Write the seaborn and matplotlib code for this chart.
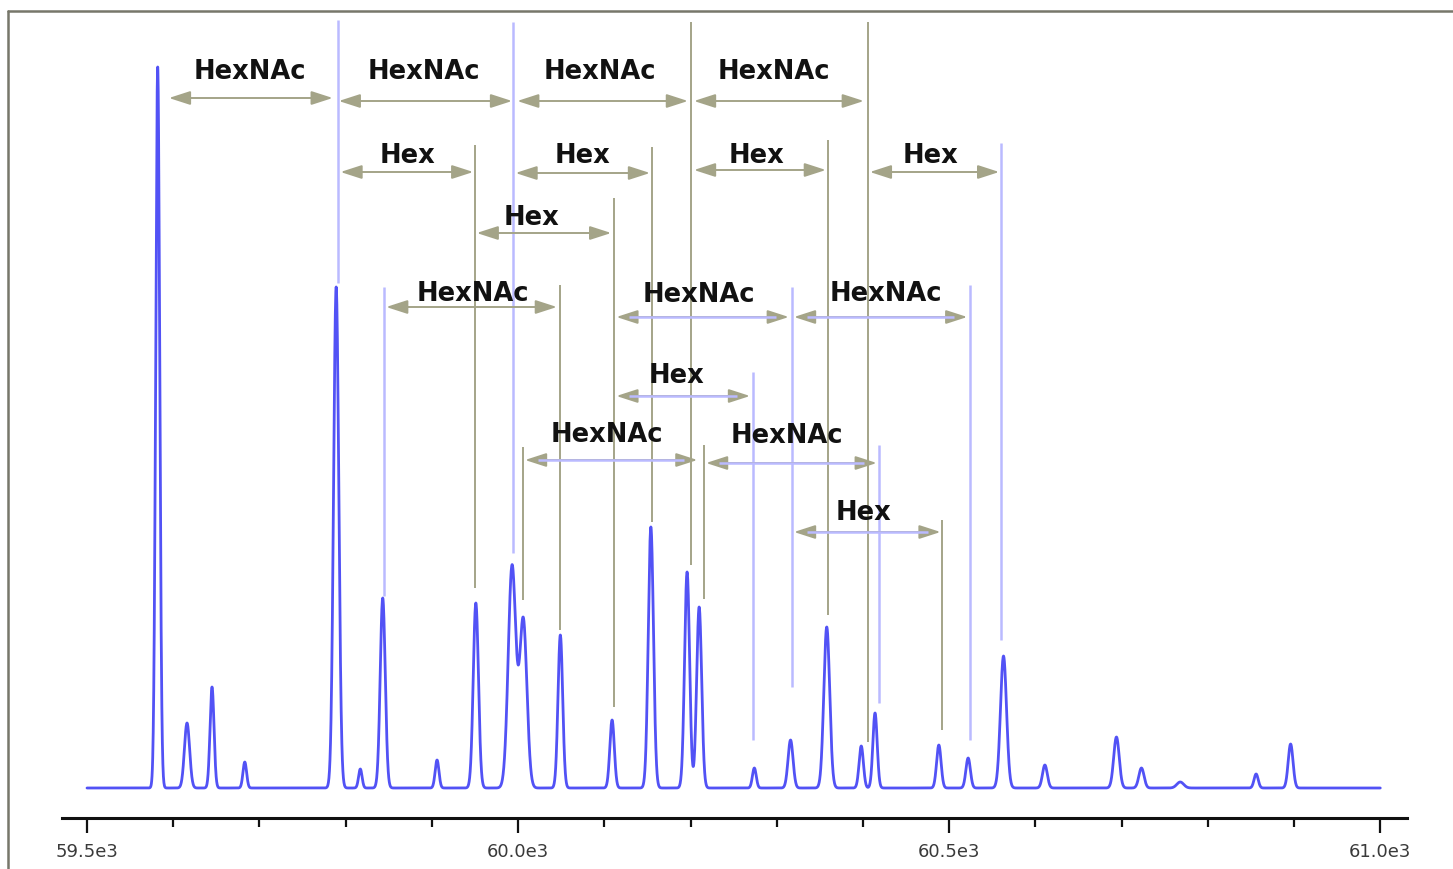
import numpy as np
import pandas as pd
import matplotlib
matplotlib.use("Agg")
import matplotlib.pyplot as plt
from matplotlib.lines import Line2D
import seaborn as sns

# ---------------- data ----------------
peak_mass = [59582, 59616, 59645, 59683, 59789, 59817, 59843, 59906, 59951, 59993,
             60006, 60049, 60109, 60154, 60196, 60210, 60274, 60316, 60358, 60398,
             60414, 60488, 60522, 60563, 60611, 60694, 60723, 60768, 60856, 60896]
peak_height = [721, 65, 101, 26, 501, 19, 190, 28, 185, 222,
               168, 153, 68, 261, 216, 181, 20, 48, 161, 42,
               75, 43, 30, 132, 23, 51, 20, 6, 14, 44]
peak_sigma = [2.3, 3.0, 2.3, 2.1, 3.0, 2.0, 2.9, 2.2, 3.0, 4.4,
              4.2, 2.7, 2.6, 3.0, 2.9, 2.9, 2.2, 2.9, 3.4, 2.5,
              2.5, 2.6, 2.6, 3.5, 2.8, 3.2, 3.0, 4.0, 2.4, 2.8]

tick_values = [59500, 60000, 60500, 61000]
tick_labels = ["59.5e3", "60.0e3", "60.5e3", "61.0e3"]

# guide lines: mass, lower end, upper end, kind
guide_mass = [60201, 60406, 59950, 60155, 60360, 60111, 60049, 60006, 60216, 60492,
              59791, 59994, 59845, 60318, 60524, 60273, 60419, 60560]
guide_low = [223, 46, 200, 266, 173, 81, 158, 188, 189, 58,
             505, 235, 192, 101, 48, 48, 85, 148]
guide_high = [766, 766, 643, 641, 648, 590, 503, 341, 343, 268,
              768, 766, 501, 501, 503, 416, 343, 645]
guide_kind = ["o"] * 10 + ["b"] * 8

# mass-difference arrows: start, end, level, shaft kind
arrow_start = [59595, 59792, 59999, 60204,
               59794, 59997, 60204, 60408,
               59952,
               59847, 60114, 60320,
               60114,
               60008, 60218,
               60320]
arrow_end = [59785, 59993, 60197, 60401,
             59948, 60153, 60357, 60558,
             60108,
             60045, 60314, 60521,
             60269,
             60208, 60416,
             60490]
arrow_level = [690, 687, 687, 687,
               616, 615, 618, 616,
               555,
               481, 471, 471,
               392,
               328, 325,
               256]
arrow_kind = ["o", "o", "o", "o",
              "o", "o", "o", "o",
              "o",
              "o", "b", "b",
              "b",
              "b", "b",
              "b"]

label_text = ["HexNAc", "HexNAc", "HexNAc", "HexNAc",
              "Hex", "Hex", "Hex", "Hex",
              "Hex",
              "HexNAc", "HexNAc", "HexNAc",
              "Hex",
              "HexNAc", "HexNAc",
              "Hex"]
label_mass = [59689, 59891, 60095, 60297,
              59872, 60075, 60276, 60478,
              60015,
              59947, 60210, 60427,
              60184,
              60103, 60312,
              60401]
label_base = [709, 709, 709, 709,
              625, 625, 625, 625,
              563,
              487, 486, 487,
              405,
              346, 345,
              268]

# ---------------- spectrum trace from peak list ----------------
mz = np.arange(59500, 61000.01, 0.2)
inten = np.zeros_like(mz)
for m, h, s in zip(peak_mass, peak_height, peak_sigma):
    inten += h * np.exp(-0.5 * ((mz - m) / s) ** 2)
spec = pd.DataFrame({"mass": mz, "intensity": inten})

# ---------------- figure ----------------
sns.set_theme(style="white")
plt.rcParams["font.family"] = ["DejaVu Sans"]

W, H = 1453, 869
fig = plt.figure(figsize=(W / 100, H / 100), dpi=100)
fig.patch.set_facecolor("white")
ax = fig.add_axes([62 / W, (H - 818) / H, (1407 - 62) / W, (818 - 11) / H])
ax.set_facecolor("white")

OLIVE = "#a4a488"
LBLUE = "#babaff"
SPEC = "#5252f5"

# guide lines
for m, lo, hi, k in zip(guide_mass, guide_low, guide_high, guide_kind):
    ax.vlines(m, lo, hi, color=OLIVE if k == "o" else LBLUE,
              lw=1.4 if k == "o" else 1.8, zorder=1)

# spectrum
sns.lineplot(data=spec, x="mass", y="intensity", ax=ax, color=SPEC,
             lw=2.0, zorder=3, estimator=None)

# arrows
HEAD = 15  # head length in mass units (about 13 px)
for a, b, lv, k in zip(arrow_start, arrow_end, arrow_level, arrow_kind):
    ax.annotate("", xy=(b, lv), xytext=(a, lv),
                arrowprops=dict(arrowstyle="<|-|>,head_length=1.3,head_width=0.42",
                                mutation_scale=10, fc=OLIVE, ec=OLIVE,
                                lw=1.4, shrinkA=0, shrinkB=0),
                zorder=4)
    if k == "b":
        ax.hlines(lv, a + HEAD, b - HEAD, color=LBLUE, lw=1.8, zorder=5)

# labels
for t, m, yb in zip(label_text, label_mass, label_base):
    ax.text(m, yb, t, ha="center", va="baseline", fontsize=18.5,
            fontweight="bold", color="#111111", zorder=6)

# axes styling
ax.set_xlim(59471, 61031)
ax.set_ylim(-30, 777)
for side in ["left", "right", "top"]:
    ax.spines[side].set_visible(False)
ax.spines["bottom"].set_color("#111111")
ax.spines["bottom"].set_linewidth(2.2)
ax.set_xticks(tick_values)
ax.set_xticklabels(tick_labels)
ax.set_xticks(np.arange(59600, 61000, 100), minor=True)
ax.tick_params(axis="x", which="major", direction="out", length=11, width=1.6,
               color="#111111", labelsize=13, labelcolor="#3a3a3a", pad=7,
               bottom=True)
ax.tick_params(axis="x", which="minor", direction="out", length=6.5, width=1.6,
               color="#111111", bottom=True)
ax.set_yticks([])
ax.set_xlabel("")
ax.set_ylabel("")

# outer frame (top and left)
FRAME = "#77776a"
fig.add_artist(Line2D([8 / W, 1.0], [1 - 11 / H, 1 - 11 / H],
                      transform=fig.transFigure, color=FRAME, lw=1.8))
fig.add_artist(Line2D([8 / W, 8 / W], [0.0, 1 - 11 / H],
                      transform=fig.transFigure, color=FRAME, lw=1.8))

fig.savefig("out.png", dpi=100, facecolor="white")
